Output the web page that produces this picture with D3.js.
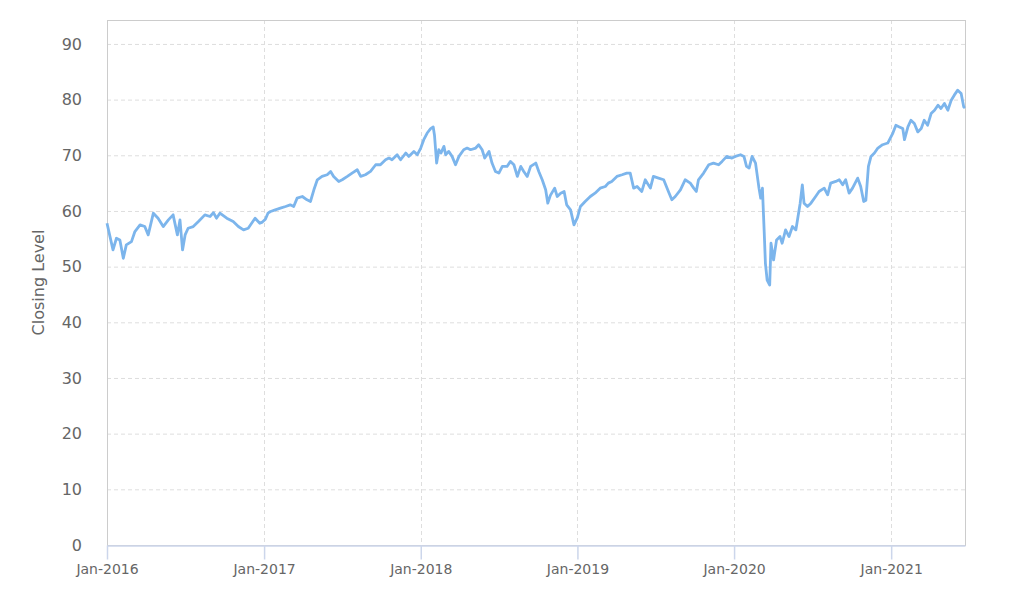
<!DOCTYPE html>
<html>
<head>
<meta charset="utf-8">
<script src="https://cdn.jsdelivr.net/npm/d3@7"></script>
<style>
  body { margin: 0; background: #fff; }
  text { font-family: "DejaVu Sans", sans-serif; }
</style>
</head>
<body>
<div id="chart"></div>
<script>
// Podaci (procjena s grafa)
const dates = [
  "2016-01-01","2016-01-08","2016-01-15","2016-01-23","2016-01-31","2016-02-08","2016-02-15","2016-02-27",
  "2016-03-06","2016-03-18","2016-03-29","2016-04-06","2016-04-18","2016-04-29","2016-05-11","2016-05-23",
  "2016-06-03","2016-06-13","2016-06-19","2016-06-25","2016-07-01","2016-07-08","2016-07-20","2016-08-01",
  "2016-08-16","2016-08-28","2016-09-05","2016-09-12","2016-09-20","2016-10-06","2016-10-21","2016-11-02",
  "2016-11-14","2016-11-25","2016-12-11","2016-12-22","2016-12-28","2017-01-04","2017-01-10","2017-01-16",
  "2017-01-27","2017-02-08","2017-02-20","2017-03-03","2017-03-11","2017-03-19","2017-03-31","2017-04-11",
  "2017-04-19","2017-04-27","2017-05-05","2017-05-16","2017-05-28","2017-06-05","2017-06-12","2017-06-24",
  "2017-07-02","2017-07-14","2017-07-25","2017-08-06","2017-08-14","2017-08-25","2017-09-06","2017-09-18",
  "2017-09-29","2017-10-11","2017-10-19","2017-10-26","2017-11-07","2017-11-15","2017-11-27","2017-12-04",
  "2017-12-16","2017-12-24","2018-01-01","2018-01-08","2018-01-16","2018-01-24","2018-01-30","2018-02-02",
  "2018-02-07","2018-02-12","2018-02-17","2018-02-24","2018-02-28","2018-03-07","2018-03-15","2018-03-23",
  "2018-03-31","2018-04-11","2018-04-19","2018-04-27","2018-05-09","2018-05-16","2018-05-24","2018-05-30",
  "2018-06-09","2018-06-16","2018-06-24","2018-07-02","2018-07-10","2018-07-21","2018-07-29","2018-08-06",
  "2018-08-14","2018-08-22","2018-08-29","2018-09-06","2018-09-14","2018-09-26","2018-10-03","2018-10-11",
  "2018-10-19","2018-10-24","2018-10-30","2018-11-09","2018-11-15","2018-11-23","2018-12-01","2018-12-07",
  "2018-12-16","2018-12-24","2019-01-01","2019-01-08","2019-01-19","2019-01-31","2019-02-11","2019-02-23",
  "2019-03-07","2019-03-14","2019-03-22","2019-04-03","2019-04-15","2019-04-26","2019-05-04","2019-05-12",
  "2019-05-20","2019-05-31","2019-06-08","2019-06-20","2019-06-27","2019-07-09","2019-07-21","2019-08-01",
  "2019-08-09","2019-08-17","2019-08-29","2019-09-09","2019-09-21","2019-09-29","2019-10-05","2019-10-10",
  "2019-10-22","2019-11-03","2019-11-14","2019-11-26","2019-12-04","2019-12-15","2019-12-27","2020-01-04",
  "2020-01-16","2020-01-24","2020-01-30","2020-02-05","2020-02-12","2020-02-20","2020-02-28","2020-03-03",
  "2020-03-07","2020-03-11","2020-03-14","2020-03-18","2020-03-24","2020-03-27","2020-04-02","2020-04-09",
  "2020-04-17","2020-04-22","2020-04-30","2020-05-08","2020-05-16","2020-05-24","2020-05-29","2020-06-03",
  "2020-06-08","2020-06-12","2020-06-20","2020-06-28","2020-07-09","2020-07-17","2020-07-29","2020-08-06",
  "2020-08-13","2020-08-25","2020-09-02","2020-09-10","2020-09-17","2020-09-25","2020-10-03","2020-10-15",
  "2020-10-22","2020-10-29","2020-11-03","2020-11-09","2020-11-15","2020-11-23","2020-12-01","2020-12-12",
  "2020-12-24","2021-01-05","2021-01-12","2021-01-20","2021-01-28","2021-02-01","2021-02-09","2021-02-16",
  "2021-02-24","2021-03-04","2021-03-12","2021-03-19","2021-03-27","2021-04-04","2021-04-12","2021-04-20",
  "2021-04-27","2021-05-05","2021-05-13","2021-05-21","2021-05-28","2021-06-05","2021-06-13","2021-06-19",
  "2021-06-22"
];

const closes = [
  57.8,55.4,53.0,55.1,54.8,51.5,53.9,54.5,
  56.3,57.5,57.2,55.7,59.6,58.7,57.2,58.4,
  59.3,55.7,58.4,53.0,55.7,56.9,57.2,58.1,
  59.3,59.0,59.7,58.7,59.6,58.7,58.1,57.2,
  56.6,56.9,58.7,57.8,58.0,58.5,59.6,59.9,
  60.2,60.5,60.8,61.1,60.8,62.3,62.6,62.0,
  61.7,63.8,65.6,66.2,66.5,67.1,66.2,65.3,
  65.6,66.2,66.8,67.4,66.2,66.5,67.1,68.3,
  68.3,69.2,69.5,69.2,70.1,69.2,70.4,69.8,
  70.7,70.1,71.3,72.8,74.0,74.8,75.1,73.6,
  68.6,71.0,70.4,71.6,70.1,70.7,69.8,68.3,
  69.8,71.0,71.3,71.0,71.3,71.9,71.0,69.5,
  70.7,68.6,67.1,66.8,68.0,68.0,68.9,68.3,
  66.2,68.0,67.1,66.2,68.0,68.6,67.1,65.6,
  63.8,61.4,62.8,64.1,62.6,63.2,63.5,61.1,
  60.2,57.5,58.8,60.8,61.7,62.6,63.2,64.1,
  64.4,65.0,65.3,66.2,66.5,66.8,66.8,64.1,
  64.4,63.5,65.6,64.1,66.2,65.9,65.6,63.5,
  62.0,62.6,63.8,65.6,65.0,64.1,63.5,65.6,
  66.8,68.3,68.6,68.3,68.9,69.8,69.5,69.8,
  70.1,69.8,68.0,67.7,69.8,68.6,64.1,62.3,
  64.1,56.6,50.6,47.6,46.7,54.2,51.2,54.8,
  55.4,54.2,56.6,55.4,57.2,56.6,59.0,61.4,
  64.7,61.4,60.8,61.4,62.6,63.5,64.1,62.9,
  65.0,65.3,65.6,64.7,65.6,63.2,64.1,65.9,
  64.4,61.7,61.9,68.0,69.8,70.4,71.3,71.9,
  72.2,74.0,75.4,75.1,74.8,72.8,75.1,76.3,
  75.7,74.2,74.8,76.3,75.4,77.5,78.1,79.0,
  78.4,79.3,78.1,79.9,80.8,81.7,81.1,78.7,
  78.5
];

const yTicks = [0, 10, 20, 30, 40, 50, 60, 70, 80, 90];
const yMax = 94.3;
const yTitle = "Closing Level";

const dimenzije = {
    sirina: 1030,
    visina: 598,
    margine: { top: 20, right: 65, bottom: 53, left: 107 }
};
dimenzije.grSirina = dimenzije.sirina - dimenzije.margine.left - dimenzije.margine.right;
dimenzije.grVisina = dimenzije.visina - dimenzije.margine.top - dimenzije.margine.bottom;

const parseDate = d3.timeParse("%Y-%m-%d");
const dataset = dates.map((d, i) => ({ date: parseDate(d), close: closes[i] }));

const svg = d3.select("#chart")
    .append("svg")
    .attr("width", dimenzije.sirina)
    .attr("height", dimenzije.visina);

const granice = svg.append("g")
    .attr("transform", `translate(${dimenzije.margine.left},${dimenzije.margine.top})`);

// Skale
const xScale = d3.scaleTime()
    .domain(d3.extent(dataset, d => d.date))
    .range([0, dimenzije.grSirina]);

const yScale = d3.scaleLinear()
    .domain([0, yMax])
    .range([dimenzije.grVisina, 0]);

const xTicks = d3.timeYear.range(new Date(2016, 0, 1), new Date(2022, 0, 1))
    .filter(t => t <= xScale.domain()[1]);

// Mreza
granice.append("g")
    .selectAll("line")
    .data(yTicks.filter(t => t > 0))
    .join("line")
    .attr("x1", 0)
    .attr("x2", dimenzije.grSirina)
    .attr("y1", d => yScale(d) + 0.5)
    .attr("y2", d => yScale(d) + 0.5)
    .attr("stroke", "#dedede")
    .attr("stroke-dasharray", "4,3");

granice.append("g")
    .selectAll("line")
    .data(xTicks.slice(1))
    .join("line")
    .attr("x1", d => Math.round(xScale(d)) + 0.5)
    .attr("x2", d => Math.round(xScale(d)) + 0.5)
    .attr("y1", 0)
    .attr("y2", dimenzije.grVisina)
    .attr("stroke", "#dedede")
    .attr("stroke-dasharray", "4,3");

// Okvir
granice.append("rect")
    .attr("x", 0.5)
    .attr("y", 0.5)
    .attr("width", dimenzije.grSirina)
    .attr("height", dimenzije.grVisina)
    .attr("fill", "none")
    .attr("stroke", "#cccccc");

// Os x
const xAxis = granice.append("g")
    .attr("transform", `translate(0,${dimenzije.grVisina + 0.5})`)
    .call(d3.axisBottom(xScale)
        .tickValues(xTicks)
        .tickFormat(d3.timeFormat("%b-%Y"))
        .tickSizeInner(14)
        .tickSizeOuter(0)
        .tickPadding(5));
xAxis.select(".domain").attr("stroke", "#ccd6eb").attr("stroke-width", 1.5);
xAxis.selectAll(".tick line").attr("stroke", "#ccd6eb").attr("stroke-width", 1.5);
xAxis.selectAll(".tick text")
    .attr("fill", "#666666")
    .style("font-size", "14px");

// Os y
const yAxis = granice.append("g")
    .call(d3.axisLeft(yScale)
        .tickValues(yTicks)
        .tickSize(0)
        .tickPadding(25));
yAxis.select(".domain").remove();
yAxis.selectAll(".tick text")
    .attr("fill", "#666666")
    .style("font-size", "16px");

svg.append("text")
    .attr("transform", `translate(44,${dimenzije.margine.top + dimenzije.grVisina / 2}) rotate(-90)`)
    .attr("text-anchor", "middle")
    .attr("fill", "#666666")
    .style("font-size", "16px")
    .text(yTitle);

// Linija
const linija = d3.line()
    .x(d => xScale(d.date))
    .y(d => yScale(d.close));

granice.append("path")
    .datum(dataset)
    .attr("d", linija)
    .attr("fill", "none")
    .attr("stroke", "#7cb5ec")
    .attr("stroke-width", 2.8)
    .attr("stroke-linejoin", "round");
</script>
</body>
</html>
